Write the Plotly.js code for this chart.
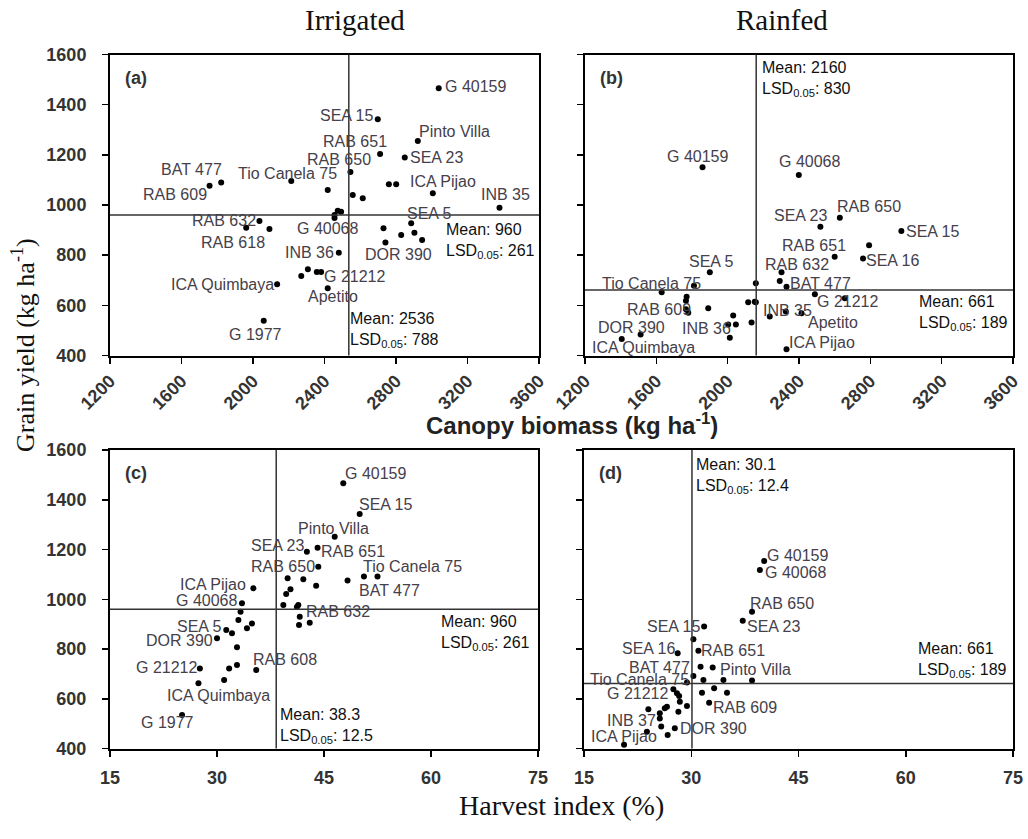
<!DOCTYPE html>
<html>
<head>
<meta charset="utf-8">
<script src="https://cdn.plot.ly/plotly-3.0.1.min.js"></script>
<style>html,body{margin:0;padding:0;background:#fff;}#chart{width:1028px;height:839px;}</style>
</head>
<body>
<div id="chart"></div>
<script>
// ---------------- DATA ----------------
// (a) Irrigated: canopy biomass vs grain yield
const namesA = ['G 40159','SEA 15','Pinto Villa','RAB 651','SEA 23','RAB 650','Tio Canela 75','','','','ICA Pijao','INB 35','','','','','','G 40068','','SEA 5','','','','DOR 390','INB 36','','','','G 21212','Apetito','ICA Quimbaya','G 1977','RAB 618','RAB 632','','BAT 477','RAB 609'];
const biomassA = [3039,2698,2922,2711,2849,2545,2418,2214,2760,2801,3006,3379,2558,2614,2474,2456,2493,2456,2730,2885,2829,2903,2946,2741,2480,2270,2307,2357,2381,2418,2135,2060,1962,2036,2092,1822,1757];
const yieldA   = [1465,1342,1255,1203,1189,1132,1060,1096,1083,1083,1047,989,1040,1027,977,960,973,948,907,927,880,889,860,850,810,717,744,733,733,668,684,539,909,936,904,1090,1077];

// (b) Rainfed: canopy biomass vs grain yield
const namesB = ['G 40159','G 40068','RAB 650','SEA 23','SEA 15','','SEA 16','RAB 651','RAB 632','','BAT 477','G 21212','','SEA 5','','Tio Canela 75','','','','RAB 609','','','INB 36','','','DOR 390','ICA Quimbaya','','','','','','INB 35','','Apetito','ICA Pijao'];
const biomassB = [1859,2399,2629,2520,2974,2793,2759,2600,2302,2292,2330,2489,2657,1900,1630,1811,1770,1766,1766,1779,1891,2031,2046,2003,2012,1512,1406,2158,2152,2158,2115,2134,2236,2326,2414,2330];
const yieldB   = [1150,1120,949,913,896,840,787,794,732,697,674,644,628,732,652,678,634,618,584,570,588,559,524,524,471,484,466,688,614,612,612,532,555,575,568,425];

// (c) Irrigated: harvest index vs grain yield
const namesC = ['G 40159','SEA 15','Pinto Villa','SEA 23','RAB 651','RAB 650','','','','','BAT 477','Tio Canela 75','','','','RAB 632','','','','','RAB 608','ICA Pijao','G 40068','','','','','SEA 5','','DOR 390','','','','G 21212','ICA Quimbaya','','G 1977'];
const hiC    = [47.7,50.0,46.5,42.6,44.1,44.2,39.9,42.1,43.9,48.3,50.6,52.5,40.3,39.7,39.3,41.4,41.2,41.6,41.5,43.0,35.5,35.1,33.5,33.3,33.0,34.2,34.9,32.1,31.3,30.0,32.8,31.7,32.8,27.6,27.4,31.0,25.1];
const yieldC = [1466,1343,1251,1191,1207,1131,1084,1080,1054,1075,1091,1091,1040,1021,977,977,969,930,896,906,716,1044,984,950,917,883,903,863,876,843,807,722,736,722,662,675,535];

// (d) Rainfed: harvest index vs grain yield
const namesD = ['G 40159','G 40068','RAB 650','SEA 23','SEA 15','','RAB 651','SEA 16','','Pinto Villa','BAT 477','','','','Tio Canela 75','G 21212','','','','','','RAB 609','','','','','','','','INB 37','DOR 390','','','','ICA Pijao'];
const hiD    = [40.2,39.6,38.5,37.2,31.8,30.3,31.0,28.1,31.3,33.0,30.3,34.5,38.5,31.7,29.4,27.5,28.0,28.3,31.5,33.2,35.0,32.5,28.4,29.4,28.2,24.0,26.3,26.6,25.6,25.6,27.7,26.7,23.8,25.8,20.6];
const yieldD = [1154,1118,950,914,890,839,793,783,729,726,691,675,673,675,665,638,622,611,624,642,624,584,588,571,548,558,562,568,542,521,481,454,467,488,415];

// Means and LSDs
const meanBiomass = [2536, 2160];
const lsdBiomass  = [788, 830];
const meanHI      = [38.3, 30.1];
const lsdHI       = [12.5, 12.4];
const meanYield   = [960, 661];
const lsdYield    = [261, 189];

// Axis ticks
const biomassTicks = [1200,1600,2000,2400,2800,3200,3600];
const hiTicks = [15,30,45,60,75];
const yieldTicks = [400,600,800,1000,1200,1400,1600];

// ---------------- LABEL PLACEMENT (style, not data) ----------------
// [xanchor, dx px, dy px (down positive)]
const placeA = {'G 40159':['left',5,-2],'SEA 15':['right',-4,-4],'Pinto Villa':['left',0,-10],'RAB 651':['center',-25,-13],
 'SEA 23':['left',4,0],'RAB 650':['center',-11,-12],'Tio Canela 75':['right',10,-16],'ICA Pijao':['center',10,-12],
 'INB 35':['center',6,-13],'SEA 5':['left',-5,-10],'DOR 390':['left',-21,12],'G 40068':['center',-7,10],'INB 36':['right',-4,0],
 'G 21212':['left',2,5],'Apetito':['center',5,8],'ICA Quimbaya':['right',-2,0],'G 1977':['center',-8,14],'RAB 632':['right',-2,-1],
 'RAB 618':['center',-13,15],'BAT 477':['right',2,-13],'RAB 609':['right',-2,9]};
const placeB = {'G 40159':['center',-5,-11],'G 40068':['center',11,-13],'RAB 650':['left',-4,-11],'SEA 23':['right',8,-11],
 'SEA 15':['left',4,0],'SEA 16':['left',2,2],'RAB 651':['center',-21,-11],'RAB 632':['center',15,-8],'BAT 477':['left',2,-3],
 'G 21212':['left',1,7],'SEA 5':['center',2,-11],'Tio Canela 75':['right',8,-2],'RAB 609':['right',4,-3],'INB 36':['right',-4,4],
 'DOR 390':['center',-9,-7],'ICA Quimbaya':['center',22,9],'INB 35':['left',-8,-6],'Apetito':['left',5,9],'ICA Pijao':['left',1,-7]};
const placeC = {'G 40159':['left',1,-10],'SEA 15':['left',-2,-9],'Pinto Villa':['center',-1,-8],'SEA 23':['right',-2,-6],
 'RAB 651':['left',2,4],'RAB 650':['right',-2,0],'Tio Canela 75':['left',-16,-10],'BAT 477':['left',-6,14],'RAB 632':['left',7,7],
 'RAB 608':['left',-4,-10],'ICA Pijao':['right',-6,-4],'G 40068':['right',-4,-3],'SEA 5':['right',-9,-7],'DOR 390':['right',-3,2],
 'G 21212':['right',-2,-1],'ICA Quimbaya':['center',20,12],'G 1977':['center',-15,8]};
const placeD = {'G 40159':['left',2,-5],'G 40068':['left',4,3],'RAB 650':['left',-3,-8],'SEA 23':['left',3,6],'SEA 15':['right',-3,0],
 'RAB 651':['left',2,0],'SEA 16':['right',-2,-5],'Pinto Villa':['left',6,2],'BAT 477':['right',-2,-9],'Tio Canela 75':['right',3,-3],
 'G 21212':['right',-4,4],'RAB 609':['left',3,5],'INB 37':['right',-3,2],'DOR 390':['left',4,0],'ICA Pijao':['center',0,-8]};

// ---------------- STYLE ----------------
const SANS = '"Liberation Sans", Arial, sans-serif';
const SERIF = '"Liberation Serif", "Times New Roman", serif';
const labelFont = {family: SANS, size: 16, color: '#45404a'};
const statFont = {family: SANS, size: 16, color: '#111'};
const tickFont = {family: SANS, size: 18, color: '#333', weight: 'bold'};

const W = 1028, H = 839;
const dom = {
  xa: [110/W, 539/W], xb: [585/W, 1013/W], xc: [110/W, 538/W], xd: [584/W, 1013/W],
  yt: [(H-355.5)/H, (H-54.5)/H], yb: [(H-748.5)/H, (H-450)/H]
};

function axisBase(extra) {
  return Object.assign({
    showline: true, mirror: true, linecolor: '#000', linewidth: 2,
    ticks: 'outside', ticklen: 6, tickwidth: 1.5, tickcolor: '#000',
    showgrid: false, zeroline: false, tickfont: tickFont, fixedrange: true
  }, extra);
}

const panels = [
  {id: '', xs: biomassA, ys: yieldA, names: namesA, place: placeA},
  {id: '2', xs: biomassB, ys: yieldB, names: namesB, place: placeB},
  {id: '3', xs: hiC, ys: yieldC, names: namesC, place: placeC},
  {id: '4', xs: hiD, ys: yieldD, names: namesD, place: placeD}
];

const traces = panels.map(p => ({
  type: 'scatter', mode: 'markers', x: p.xs, y: p.ys,
  xaxis: 'x' + p.id, yaxis: 'y' + p.id,
  marker: {color: '#000', size: 6}, hoverinfo: 'skip', cliponaxis: false
}));

const annotations = [];
panels.forEach(p => {
  p.names.forEach((n, i) => {
    if (!n) return;
    const pl = p.place[n] || ['left', 4, 0];
    annotations.push({
      xref: 'x' + p.id, yref: 'y' + p.id, x: p.xs[i], y: p.ys[i],
      text: n, showarrow: false, xanchor: pl[0], yanchor: 'middle',
      xshift: pl[1], yshift: -pl[2], font: labelFont, borderpad: 0
    });
  });
});

function stat(m, l) { return 'Mean: ' + m + '<br>LSD<sub>0.05</sub>: ' + l; }
// Mean/LSD blocks
annotations.push(
  {xref: 'x', yref: 'y domain', x: meanBiomass[0], y: 0, xanchor: 'left', yanchor: 'bottom', xshift: 0, yshift: 4,
   text: stat(meanBiomass[0], lsdBiomass[0]), align: 'left', showarrow: false, font: statFont, borderpad: 0},
  {xref: 'x domain', yref: 'y', x: 1, y: meanYield[0], xanchor: 'right', yanchor: 'top', xshift: -3, yshift: -5,
   text: stat(meanYield[0], lsdYield[0]), align: 'left', showarrow: false, font: statFont, borderpad: 0},
  {xref: 'x2', yref: 'y2 domain', x: meanBiomass[1], y: 1, xanchor: 'left', yanchor: 'top', xshift: 5, yshift: -3,
   text: stat(meanBiomass[1], lsdBiomass[1]), align: 'left', showarrow: false, font: statFont, borderpad: 0},
  {xref: 'x2 domain', yref: 'y2', x: 1, y: meanYield[1], xanchor: 'right', yanchor: 'top', xshift: -4, yshift: -2,
   text: stat(meanYield[1], lsdYield[1]), align: 'left', showarrow: false, font: statFont, borderpad: 0},
  {xref: 'x3', yref: 'y3 domain', x: meanHI[0], y: 0, xanchor: 'left', yanchor: 'bottom', xshift: 3, yshift: 2,
   text: stat(meanHI[0], lsdHI[0]), align: 'left', showarrow: false, font: statFont, borderpad: 0},
  {xref: 'x3 domain', yref: 'y3', x: 1, y: meanYield[0], xanchor: 'right', yanchor: 'top', xshift: -7, yshift: -3,
   text: stat(meanYield[0], lsdYield[0]), align: 'left', showarrow: false, font: statFont, borderpad: 0},
  {xref: 'x4', yref: 'y4 domain', x: meanHI[1], y: 1, xanchor: 'left', yanchor: 'top', xshift: 3, yshift: -5,
   text: stat(meanHI[1], lsdHI[1]), align: 'left', showarrow: false, font: statFont, borderpad: 0},
  {xref: 'x4 domain', yref: 'y4', x: 1, y: meanYield[1], xanchor: 'right', yanchor: 'bottom', xshift: -5, yshift: 3,
   text: stat(meanYield[1], lsdYield[1]), align: 'left', showarrow: false, font: statFont, borderpad: 0}
);

// Panel letters
[['', '(a)'], ['2', '(b)'], ['3', '(c)'], ['4', '(d)']].forEach(([id, t]) => {
  annotations.push({xref: 'x' + id + ' domain', yref: 'y' + id + ' domain', x: 0, y: 1, xanchor: 'left', yanchor: 'top',
    xshift: 14, yshift: -12, text: t, showarrow: false, borderpad: 0,
    font: {family: SANS, size: 18, color: '#333', weight: 'bold'}});
});

// Titles
annotations.push(
  {xref: 'paper', yref: 'paper', x: 355/W, y: 1 - 20/H, text: 'Irrigated', showarrow: false, xanchor: 'center', yanchor: 'middle',
   font: {family: SERIF, size: 29, color: '#111'}},
  {xref: 'paper', yref: 'paper', x: 782/W, y: 1 - 20/H, text: 'Rainfed', showarrow: false, xanchor: 'center', yanchor: 'middle',
   font: {family: SERIF, size: 29, color: '#111'}},
  {xref: 'paper', yref: 'paper', x: 572/W, y: 1 - 424/H, text: 'Canopy biomass (kg ha<sup>-1</sup>)', showarrow: false,
   xanchor: 'center', yanchor: 'middle', font: {family: SANS, size: 24, color: '#222', weight: 'bold'}},
  {xref: 'paper', yref: 'paper', x: 561/W, y: 1 - 805/H, text: 'Harvest index (%)', showarrow: false,
   xanchor: 'center', yanchor: 'middle', font: {family: SERIF, size: 28, color: '#111'}},
  {xref: 'paper', yref: 'paper', x: 23/W, y: 1 - 345/H, text: 'Grain yield (kg ha<sup>-1</sup>)', showarrow: false, textangle: -90,
   xanchor: 'center', yanchor: 'middle', font: {family: SERIF, size: 26, color: '#111'}}
);

// Mean lines
const lineStyle = {color: '#333', width: 1.5};
const shapes = [
  {type: 'line', xref: 'x', yref: 'y domain', x0: meanBiomass[0], x1: meanBiomass[0], y0: 0, y1: 1, line: lineStyle},
  {type: 'line', xref: 'x domain', yref: 'y', x0: 0, x1: 1, y0: meanYield[0], y1: meanYield[0], line: lineStyle},
  {type: 'line', xref: 'x2', yref: 'y2 domain', x0: meanBiomass[1], x1: meanBiomass[1], y0: 0, y1: 1, line: lineStyle},
  {type: 'line', xref: 'x2 domain', yref: 'y2', x0: 0, x1: 1, y0: meanYield[1], y1: meanYield[1], line: lineStyle},
  {type: 'line', xref: 'x3', yref: 'y3 domain', x0: meanHI[0], x1: meanHI[0], y0: 0, y1: 1, line: lineStyle},
  {type: 'line', xref: 'x3 domain', yref: 'y3', x0: 0, x1: 1, y0: meanYield[0], y1: meanYield[0], line: lineStyle},
  {type: 'line', xref: 'x4', yref: 'y4 domain', x0: meanHI[1], x1: meanHI[1], y0: 0, y1: 1, line: lineStyle},
  {type: 'line', xref: 'x4 domain', yref: 'y4', x0: 0, x1: 1, y0: meanYield[1], y1: meanYield[1], line: lineStyle}
];

const bioAxis = {range: [1200, 3600], tickvals: biomassTicks, tickangle: -45};
const hiAxis = {range: [15, 75], tickvals: hiTicks, tickangle: 0, ticklabelstandoff: 6};
const yAxis = {range: [400, 1600], tickvals: yieldTicks, ticklabelstandoff: 12};

const layout = {
  width: W, height: H, margin: {l: 0, r: 0, t: 0, b: 0},
  paper_bgcolor: '#fff', plot_bgcolor: '#fff', showlegend: false,
  xaxis:  axisBase(Object.assign({domain: dom.xa, anchor: 'y'}, bioAxis)),
  yaxis:  axisBase(Object.assign({domain: dom.yt, anchor: 'x'}, yAxis)),
  xaxis2: axisBase(Object.assign({domain: dom.xb, anchor: 'y2'}, bioAxis)),
  yaxis2: axisBase(Object.assign({domain: dom.yt, anchor: 'x2', showticklabels: false}, yAxis)),
  xaxis3: axisBase(Object.assign({domain: dom.xc, anchor: 'y3'}, hiAxis)),
  yaxis3: axisBase(Object.assign({domain: dom.yb, anchor: 'x3'}, yAxis)),
  xaxis4: axisBase(Object.assign({domain: dom.xd, anchor: 'y4'}, hiAxis)),
  yaxis4: axisBase(Object.assign({domain: dom.yb, anchor: 'x4', showticklabels: false}, yAxis)),
  annotations: annotations, shapes: shapes
};

Plotly.newPlot('chart', traces, layout, {displayModeBar: false, staticPlot: true});
</script>
</body>
</html>
